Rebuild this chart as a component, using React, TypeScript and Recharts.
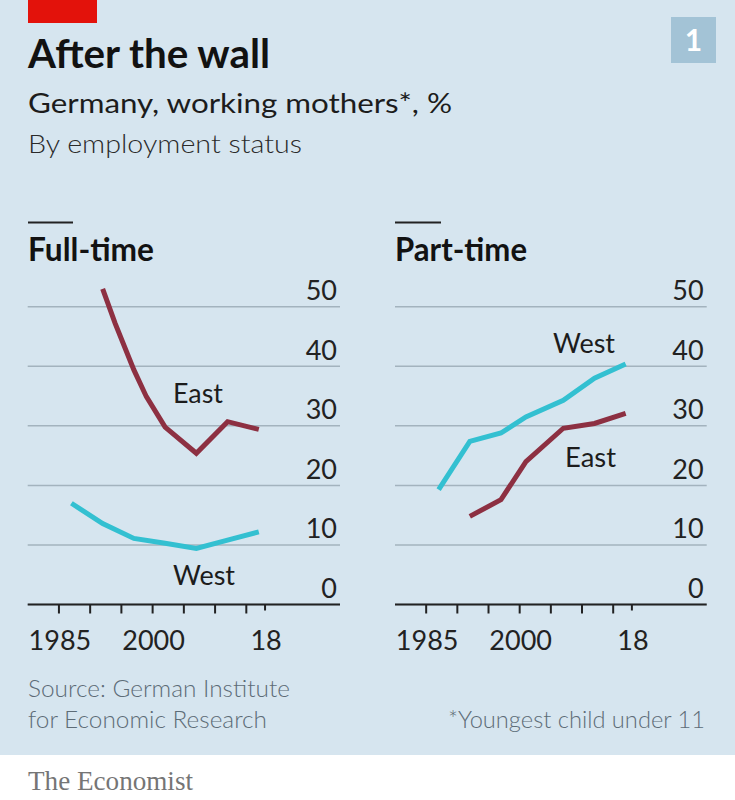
import React from "react";
import { LineChart, Line, XAxis, YAxis, CartesianGrid } from "recharts";

// Full-time, % of working mothers
const fullTimeYears = [1987, 1992, 1994, 1997, 1999, 2002, 2007, 2012, 2017];
const fullTimeEast = [null, 53, 47.2, 39.4, 34.9, 29.8, 25.4, 30.7, 29.4];
const fullTimeWest = [17.0, 13.6, null, 11.1, null, 10.3, 9.4, 10.8, 12.2];

// Part-time, % of working mothers
const partTimeYears = [1987, 1992, 1997, 2001, 2007, 2012, 2017];
const partTimeWest = [19.3, 27.4, 28.8, 31.5, 34.3, 38.0, 40.4];
const partTimeEast = [null, 14.8, 17.6, 24.0, 29.6, 30.4, 32.1];

const xTicks = [1985, 1990, 1995, 2000, 2005, 2010, 2015, 2018];
const xTickLabels: Record<number, string> = { 1985: "1985", 2000: "2000", 2018: "18" };
const yTicks = [0, 10, 20, 30, 40, 50];
const yMax = 55;

const EAST = "#8d3042";
const WEST = "#33c0d1";
const BG = "#d6e5ef";
const GRID = "#a3b3be";
const FONT = "Lato, 'Noto Sans', sans-serif";

const fullTimeData = fullTimeYears.map((year, i) => ({
  year,
  east: fullTimeEast[i],
  west: fullTimeWest[i],
}));
const partTimeData = partTimeYears.map((year, i) => ({
  year,
  east: partTimeEast[i],
  west: partTimeWest[i],
}));

const XTick = (props: any) => {
  const { x, y, payload } = props;
  const label = xTickLabels[payload.value];
  const len = payload.value === 2018 ? 6 : 9;
  return (
    <g>
      <line x1={x} x2={x} y1={y} y2={y + len} stroke="#222" strokeWidth={2} />
      {label && (
        <text
          x={x + 1}
          y={y + 45}
          textAnchor="middle"
          fontFamily={FONT}
          fontSize={27}
          fill="#222"
        >
          {label}
        </text>
      )}
    </g>
  );
};

const YTick = (props: any) => {
  const { x, y, payload } = props;
  return (
    <text
      x={x - 3}
      y={y - 6.5}
      textAnchor="end"
      fontFamily={FONT}
      fontSize={27}
      fill="#222"
    >
      {payload.value}
    </text>
  );
};

// grid rows only at the y ticks, placed through the y scale
const gridRows = ({ yAxis, offset }: any) => {
  const scale = yAxis && yAxis.scale;
  if (typeof scale === "function") return yTicks.map((t) => scale(t));
  return yTicks.map((t) => offset.top + offset.height * (1 - t / yMax));
};

const Panel = ({ data, margin }: { data: any[]; margin: any }) => (
  <LineChart width={368} height={400} data={data} margin={margin}>
    <CartesianGrid
      vertical={false}
      stroke={GRID}
      strokeWidth={1.5}
      horizontalCoordinatesGenerator={gridRows}
    />
    <XAxis
      dataKey="year"
      type="number"
      domain={[1980, 2030]}
      ticks={xTicks}
      interval={0}
      height={40}
      tickSize={0}
      tickMargin={0}
      tickLine={false}
      axisLine={{ stroke: "#222", strokeWidth: 2 }}
      tick={<XTick />}
    />
    <YAxis
      orientation="right"
      type="number"
      domain={[0, yMax]}
      ticks={yTicks}
      interval={0}
      width={1}
      tickSize={0}
      tickMargin={0}
      tickLine={false}
      axisLine={false}
      tick={<YTick />}
    />
    <Line
      type="linear"
      dataKey="east"
      stroke={EAST}
      strokeWidth={5}
      dot={false}
      connectNulls
      isAnimationActive={false}
    />
    <Line
      type="linear"
      dataKey="west"
      stroke={WEST}
      strokeWidth={5}
      dot={false}
      connectNulls
      isAnimationActive={false}
    />
  </LineChart>
);

const T = (props: any) => {
  const { children, ...rest } = props;
  return (
    <text fontFamily={FONT} lengthAdjust="spacingAndGlyphs" {...rest}>
      {children}
    </text>
  );
};

const App: React.FC = () => {
  return (
    <div
      style={{
        position: "absolute",
        left: 0,
        top: 0,
        width: 735,
        height: 800,
        background: "#fff",
        overflow: "hidden",
      }}
    >
      <svg width={735} height={800} style={{ position: "absolute", left: 0, top: 0 }}>
        <rect x={0} y={0} width={735} height={755} fill={BG} />
        <rect x={28} y={0} width={69} height={23} fill="#e3120b" />
        <T x={28} y={68} fontSize={40} fontWeight={700} fill="#121212" textLength={242}>
          After the wall
        </T>
        <T x={28} y={113} fontSize={26} fill="#1c1c1c" textLength={424}>
          Germany, working mothers*, %
        </T>
        <T x={28} y={152.5} fontSize={26} fontWeight={300} fill="#2a2a2a" textLength={274}>
          By employment status
        </T>
        <rect x={671} y={17} width={45} height={46} fill="#a3c3d6" />
        <text x={693.5} y={51} textAnchor="middle" fontFamily={FONT} fontWeight={700} fontSize={30} fill="#fff">
          1
        </text>

        <line x1={28} x2={73} y1={222.5} y2={222.5} stroke="#222" strokeWidth={2} />
        <T x={28} y={261} fontSize={32} fontWeight={700} fill="#121212" textLength={126}>
          Full-time
        </T>
        <line x1={395} x2={441} y1={222.5} y2={222.5} stroke="#222" strokeWidth={2} />
        <T x={395} y={261} fontSize={32} fontWeight={700} fill="#121212" textLength={132}>
          Part-time
        </T>

        <T x={173} y={403} fontSize={27} fill="#1c1c1c" textLength={50}>
          East
        </T>
        <T x={173} y={585} fontSize={27} fill="#1c1c1c" textLength={62}>
          West
        </T>
        <T x={553} y={353} fontSize={27} fill="#1c1c1c" textLength={62}>
          West
        </T>
        <T x={565} y={467} fontSize={27} fill="#1c1c1c" textLength={51}>
          East
        </T>

        <T x={28} y={697} fontSize={24} fontWeight={300} fill="#5d6c77" textLength={262}>
          Source: German Institute
        </T>
        <T x={28} y={728} fontSize={24} fontWeight={300} fill="#5d6c77" textLength={239}>
          for Economic Research
        </T>
        <T x={448} y={728} fontSize={24} fontWeight={300} fill="#5d6c77" textLength={257}>
          *Youngest child under 11
        </T>
        <text
          x={28}
          y={790}
          fontFamily="'Liberation Serif', 'DejaVu Serif', serif"
          fontSize={28}
          fill="#757575"
          textLength={165}
          lengthAdjust="spacingAndGlyphs"
        >
          The Economist
        </text>
      </svg>
      <div style={{ position: "absolute", left: 0, top: 260 }}>
        <Panel data={fullTimeData} margin={{ top: 17, right: 27, bottom: 15.5, left: 27.7 }} />
      </div>
      <div style={{ position: "absolute", left: 367, top: 260 }}>
        <Panel data={partTimeData} margin={{ top: 17, right: 27.3, bottom: 15.5, left: 28 }} />
      </div>
    </div>
  );
};

export default App;
